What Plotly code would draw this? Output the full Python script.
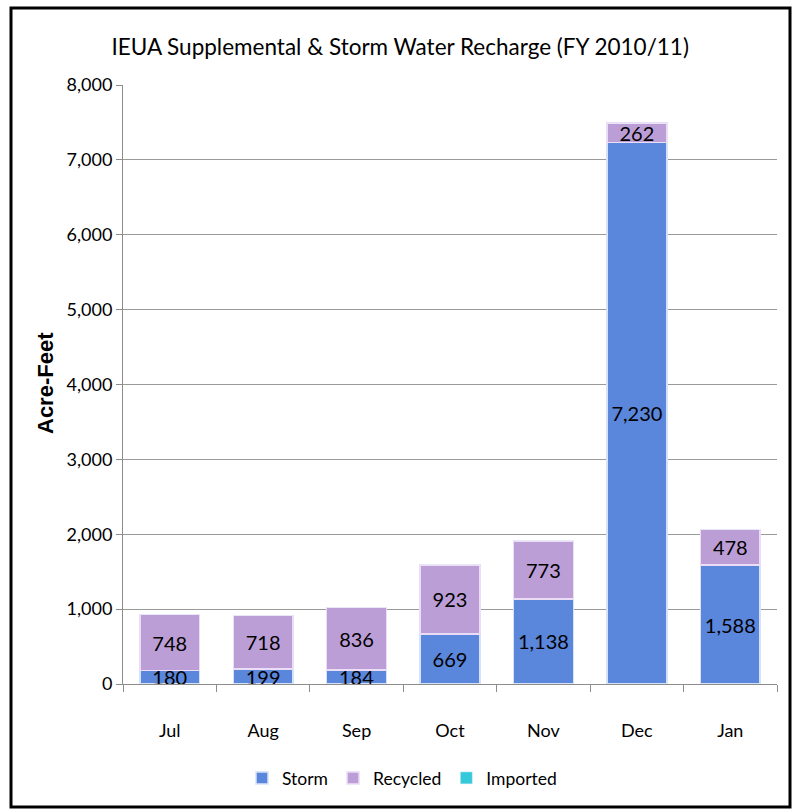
import plotly.graph_objects as go

months = ["Jul", "Aug", "Sep", "Oct", "Nov", "Dec", "Jan"]
storm = [180, 199, 184, 669, 1138, 7230, 1588]
recycled = [748, 718, 836, 923, 773, 262, 478]
imported = [0, 0, 0, 0, 0, 0, 0]
y_ticks = [0, 1000, 2000, 3000, 4000, 5000, 6000, 7000, 8000]

FONT = "Lato, sans-serif"

fig = go.Figure()
fig.add_trace(go.Bar(
    name="Storm", x=months, y=storm,
    marker=dict(color="#5A86DC", line=dict(color="#D6E2F7", width=1.5)),
    texttemplate="%{y:,}", textposition="inside", insidetextanchor="middle",
    textangle=0, constraintext="none",
    textfont=dict(family=FONT, size=20, color="black"),
))
fig.add_trace(go.Bar(
    name="Recycled", x=months, y=recycled,
    marker=dict(color="#BC9ED6", line=dict(color="#EBDDF5", width=1.5)),
    texttemplate="%{y:,}", textposition="inside", insidetextanchor="middle",
    textangle=0, constraintext="none",
    textfont=dict(family=FONT, size=20, color="black"),
))
fig.add_trace(go.Bar(
    name="Imported", x=months, y=imported,
    marker=dict(color="#33C9DA"), textposition="none",
))

fig.update_layout(
    barmode="stack", bargap=0.36,
    width=794, height=810,
    margin=dict(l=123, r=17, t=85, b=126),
    paper_bgcolor="white", plot_bgcolor="white",
    font=dict(family=FONT, size=18, color="black"),
    title=dict(text="IEUA Supplemental & Storm Water Recharge (FY 2010/11)",
               x=0.504, xanchor="center", y=1 - 47 / 810, yanchor="middle",
               font=dict(family=FONT, size=22.5, color="black")),
    legend=dict(orientation="h", x=(402 - 123) / 654, xanchor="center",
                y=(684 - 778) / 599, yanchor="middle",
                font=dict(family=FONT, size=17.5), traceorder="normal",
                itemwidth=30),
    showlegend=True,
)
fig.update_yaxes(
    range=[0, 8000], tickvals=y_ticks, tickformat=",",
    showgrid=True, gridcolor="#9A9A9A", gridwidth=1,
    showline=True, linecolor="#8C8C8C", linewidth=1,
    ticks="outside", ticklen=6, tickcolor="#8C8C8C",
    tickfont=dict(family=FONT, size=18), zeroline=False,
)
fig.update_xaxes(
    showline=True, linecolor="#8C8C8C", linewidth=1,
    ticks="outside", tickson="boundaries", ticklen=7, tickcolor="#8C8C8C",
    tickfont=dict(family=FONT, size=18), ticklabelstandoff=30,
)
fig.add_annotation(text="<b>Acre-Feet</b>", xref="paper", yref="paper",
                   x=(45 - 123) / 654, y=(684 - 383) / 599, textangle=-90,
                   xanchor="center", yanchor="middle",
                   showarrow=False, font=dict(family="Liberation Sans, Arial", size=22, color="black"))
fig.add_shape(type="rect", xref="paper", yref="paper",
              x0=(11 - 123) / 654, x1=(790 - 123) / 654,
              y0=(684 - 807) / 599, y1=(684 - 8) / 599,
              line=dict(color="black", width=3))

fig.write_html("out.html", config={"displayModeBar": False},
               post_script="document.body.style.margin='0';document.body.style.overflow='hidden';")
